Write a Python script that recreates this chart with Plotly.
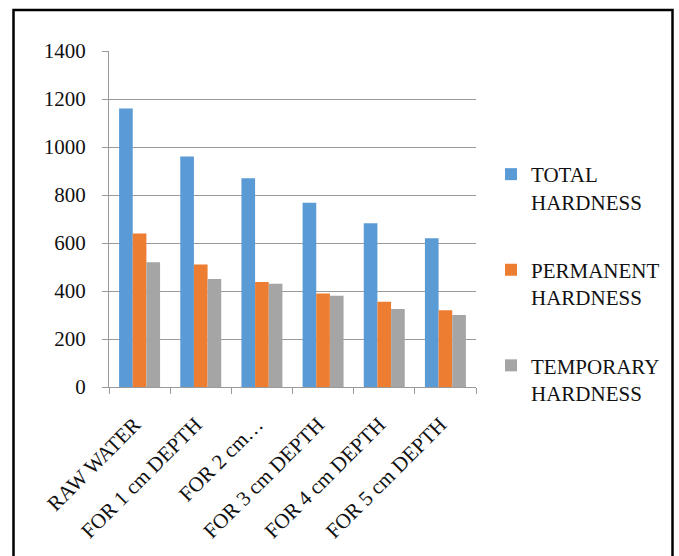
import plotly.graph_objects as go

categories = ["RAW WATER", "FOR 1 cm DEPTH", "FOR 2 cm…", "FOR 3 cm DEPTH", "FOR 4 cm DEPTH", "FOR 5 cm DEPTH"]
total_hardness = [1160, 960, 870, 768, 682, 620]
permanent_hardness = [640, 510, 438, 390, 355, 320]
temporary_hardness = [520, 450, 430, 380, 325, 300]
series_names = ["TOTAL<br>HARDNESS", "PERMANENT<br>HARDNESS", "TEMPORARY<br>HARDNESS"]
colors = ["#5B9BD5", "#ED7D31", "#A5A5A5"]
y_ticks = [0, 200, 400, 600, 800, 1000, 1200, 1400]

FONT = "Liberation Serif"
FS = 21

fig = go.Figure()
for i, (name, vals) in enumerate(zip(series_names, [total_hardness, permanent_hardness, temporary_hardness])):
    fig.add_trace(go.Bar(
        x=categories, y=vals, name=name, legendgroup=f"g{i}",
        marker=dict(color=colors[i], line=dict(width=0)),
    ))

L, R, T, B = 109, 203, 51, 169
W, H = 679, 556
pw, ph = W - L - R, H - T - B

def px_x(x):
    return (x - L) / pw

def px_y(y):
    return (H - B - y) / ph

fig.update_layout(
    width=W, height=H,
    margin=dict(l=L, r=R, t=T, b=B, autoexpand=False),
    paper_bgcolor="white", plot_bgcolor="white",
    font=dict(family=FONT, size=FS, color="#111111"),
    barmode="group", bargap=0.33, bargroupgap=0,
    showlegend=True,
    legend=dict(
        x=px_x(491), xanchor="left", xref="paper",
        y=px_y(154), yanchor="top", yref="paper",
        traceorder="grouped", tracegroupgap=38, valign="top",
        font=dict(family=FONT, size=FS, color="#111111"),
        bgcolor="rgba(0,0,0,0)",
    ),
    xaxis=dict(
        type="category", tickangle=-45, showgrid=False,
        showline=True, linecolor="#9a9a9a", linewidth=1,
        ticks="outside", tickson="boundaries", ticklen=6, tickcolor="#9a9a9a",
        ticklabelstandoff=16, ticklabelshift=-5,
        tickfont=dict(family=FONT, size=FS, color="#111111"),
    ),
    yaxis=dict(
        range=[0, 1400], tickvals=y_ticks, showgrid=True, gridcolor="#9a9a9a", gridwidth=1,
        showline=True, linecolor="#9a9a9a", linewidth=1, zeroline=False,
        ticks="outside", ticklen=6, tickcolor="#9a9a9a",
        ticklabelstandoff=12,
        tickfont=dict(family=FONT, size=FS, color="#111111"),
    ),
    shapes=[dict(
        type="rect", xref="paper", yref="paper",
        x0=px_x(13.5), x1=px_x(672.5), y0=px_y(10), y1=px_y(570),
        line=dict(color="black", width=2.5), fillcolor="rgba(0,0,0,0)", layer="above",
    )],
)

fig.write_html(
    "out.html",
    config={"displayModeBar": False},
    post_script="document.body.style.margin='0';document.body.style.padding='0';document.body.style.overflow='hidden';",
)
